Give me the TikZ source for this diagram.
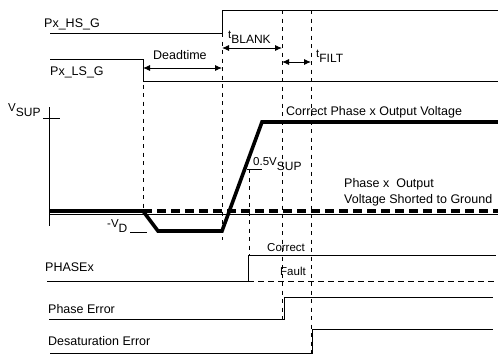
\documentclass[tikz,border=0pt]{standalone}
\usepackage{fontspec}
\setmainfont{Liberation Sans}
\usepackage{tikz}
\usetikzlibrary{arrows.meta}
\tikzset{
  lbl/.style = {anchor=base west, inner sep=0pt, font=\fontsize{12.5}{14}\selectfont},
  slbl/.style = {lbl, font=\fontsize{11.5}{13}\selectfont},
  sig/.style = {line width=0.9pt},
  wave/.style = {line width=3.6pt, line join=miter},
  gnd/.style = {wave, dash pattern=on 9pt off 5pt},
  vline/.style = {line width=0.8pt, dash pattern=on 4pt off 4.5pt},
  dim/.style = {line width=0.9pt, {Latex[length=7pt,width=6pt]}-{Latex[length=7pt,width=6pt]}},
}
\newcommand{\lowsub}[1]{\raisebox{-5pt}{\fontsize{12}{13}\selectfont #1}}

\begin{document}
\begin{tikzpicture}[x=1pt,y=-1pt]
\useasboundingbox (0,0) rectangle (498,354);

% gate signals
\node [lbl] (hs) at (44,27) {Px\_HS\_G};
\node [lbl] (ls) at (50,75) {Px\_LS\_G};
\draw [sig] (50,33) -- (222,33) -- (222,10) -- (498,10);
\draw [sig] (50,59) -- (143,59) -- (143,81) -- (498,81);

% time marks
\draw [vline] (143,59) -- (143,211);
\draw [vline] (222,33) -- (222,240);
\draw [vline] (249,169) -- (249,255);
\draw [vline] (282,10) -- (282,320);
\draw [vline] (311,10) -- (311,353);

\coordinate (dt1) at (143,68);
\coordinate (dt2) at (222,68);
\coordinate (bl1) at (222,48);
\coordinate (bl2) at (282,48);
\coordinate (fi1) at (282,62);
\coordinate (fi2) at (311,62);
\draw [dim] (dt1) -- (dt2);
\draw [dim] (bl1) -- (bl2);
\draw [dim] (fi1) -- (fi2);
\node [lbl] (dead) at (153,59) {Deadtime};
\node [slbl] (blank) at (228,38) {t\lowsub{BLANK}};
\node [slbl] (filt) at (316,57) {t\lowsub{FILT}};

% phase voltage
\draw [sig] (49,107) -- (49,226);
\draw [sig] (43,118) -- (60,118);
\node [slbl] (vsup) at (8,111) {V\lowsub{SUP}};
\draw [line width=0.7pt] (49,214.5) -- (498,214.5);
\draw [wave] (49,211) -- (143,211) -- (158,231) -- (222,231) -- (262,122) -- (498,122);
\draw [gnd] (143,211) -- (498,211);
\draw [sig] (130,232) -- (147,232);
\node [slbl] (vd) at (107,227) {-V\lowsub{D}};
\draw [sig] (247,169) -- (262,169);
\node [slbl] (half) at (253,165) {0.5V\lowsub{SUP}};
\node [lbl] (ok) at (286,115) {Correct Phase x Output Voltage};
\node [lbl] (sh1) at (344,187) {Phase x\ \ Output};
\node [lbl] (sh2) at (344,203) {Voltage Shorted to Ground};

% status signals
\node [lbl] (phx) at (45,271) {PHASEx};
\draw [sig] (47,281) -- (248,281) -- (248,255) -- (496,255);
\draw [sig, dash pattern=on 6pt off 4pt] (248,281) -- (498,281);
\node [slbl] (corr) at (267,251) {Correct};
\node [slbl] (flt) at (280,275) {Fault};

\node [lbl] (perr) at (48,313) {Phase Error};
\draw [sig] (49,319) -- (284,319) -- (284,297) -- (493,297);
\node [lbl] (derr) at (48,345) {Desaturation Error};
\draw [sig] (50,353) -- (312,353) -- (312,329) -- (493,329);
\end{tikzpicture}
\end{document}
